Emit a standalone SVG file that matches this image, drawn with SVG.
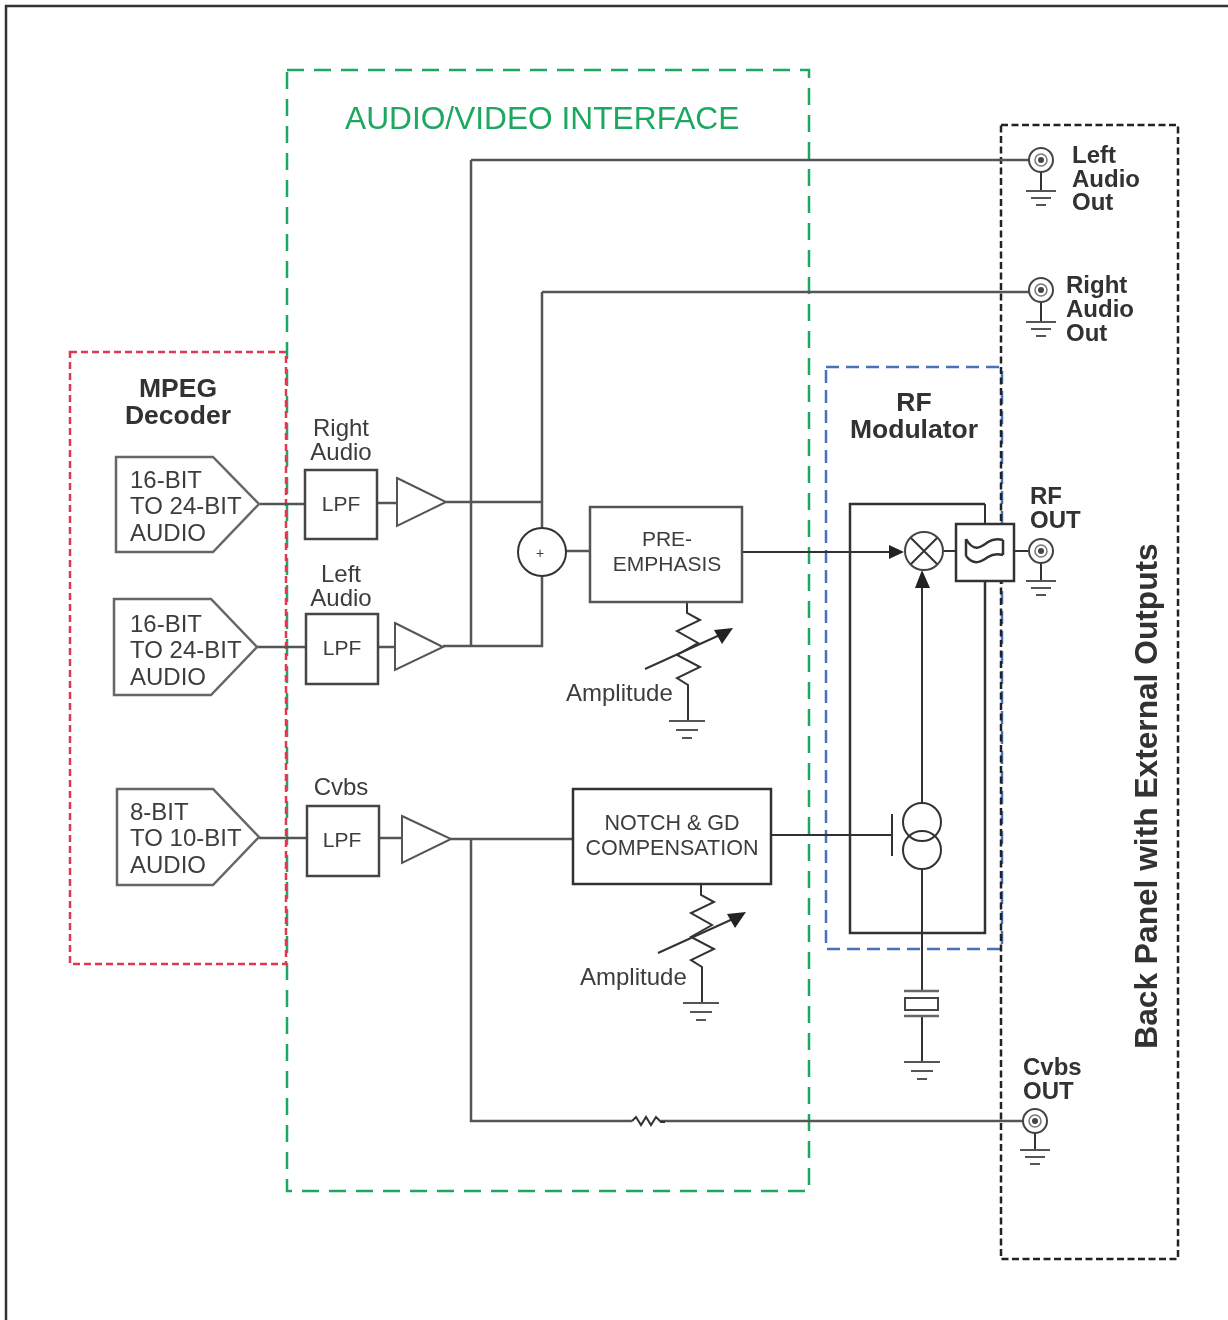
<svg xmlns="http://www.w3.org/2000/svg" width="1228" height="1320" viewBox="0 0 1228 1320">
<style>
text{font-family:"Liberation Sans",Arial,sans-serif;fill:#3c3c3c;font-size:24px}
.b{font-weight:bold;fill:#303030}
.h{font-size:26.5px}
.m{text-anchor:middle}
.l{font-size:21px}
.w{fill:none;stroke:#555;stroke-width:2.5}
.t{fill:none;stroke:#333;stroke-width:2}
.box{fill:#fff;stroke:#444;stroke-width:2.5}
.sym{fill:#fff;stroke:#444;stroke-width:2}
.ah{fill:#222;stroke:none}
</style>
<defs>
<filter id="soft" x="0" y="0" width="100%" height="100%"><feGaussianBlur stdDeviation="0.6"/></filter>
<g id="gnd" fill="none" stroke="#555" stroke-width="2"><path d="M-18 0H18M-11 9H11M-5 17H5"/></g>
<g id="gnds" fill="none" stroke="#555" stroke-width="2"><path d="M-15 0H15M-10 7H10M-5 14H5"/></g>
<g id="jack"><circle r="12" class="sym"/><circle r="6" fill="none" stroke="#777" stroke-width="1.5"/><circle r="3" fill="#444"/></g>
</defs>
<g filter="url(#soft)">
<rect width="1228" height="1320" fill="#fff"/>
<path d="M6 1320V6H1228" fill="none" stroke="#333" stroke-width="2.5"/>

<g id="frames" fill="none">
<rect id="av-frame" x="287" y="70" width="522" height="1121" stroke="#1fa860" stroke-width="2.5" stroke-dasharray="17 10"/>
<rect id="mpeg-frame" x="70" y="352" width="216" height="612" stroke="#e0384f" stroke-width="2.5" stroke-dasharray="7 4"/>
<rect id="rf-frame" x="826" y="367" width="176" height="582" stroke="#4a72b8" stroke-width="2.5" stroke-dasharray="13 7"/>
<rect id="back-frame" x="1001" y="125" width="177" height="1134" stroke="#222" stroke-width="2.5" stroke-dasharray="7 3.5"/>
</g>

<g id="connectors">
<path class="w" d="M260 504H305M377 503H397M446 502H542M471 160H1029M471 160V646M542 292H1029M542 292V528M542 576V646H443M257 647H306M378 647H395M259 838H307M379 838H402M451 839H573M471 839V1121H632M661 1121H1024M566 551H590"/>
<path class="t" d="M742 552H890M772 835H892M922 803V584M922 869V992M922 1016V1062M943 551H956M1014 551H1030M985 504V524M985 581V933"/>
<path class="t" d="M632 1121l4-4 5 8 5-8 5 8 5-8 5 5h4"/>
<path class="t" d="M1041 172V191M1041 302V322M1041 563V581M1035 1133V1150"/>
<path class="t" d="M687 603V613L700 620L677 631L698 643L677 655L700 667L677 678L688 685V721M701 885V895L714 902L691 913L712 925L691 937L714 949L691 960L702 967V1003"/>
<path class="t" d="M645 669L722 634M658 953L735 918"/>
<path class="ah" d="M733 628L714 630L722 644ZM746 912L727 914L735 928ZM904 552L889 545V559ZM922 570L915 588H930Z"/>
</g>

<text id="mpeg-label" class="b m h" y="397"><tspan x="178">MPEG</tspan><tspan x="178" dy="27">Decoder</tspan></text>

<g id="dac1"><path class="box" style="stroke:#666" d="M116 457H213L259 504L213 552H116Z"/><text y="488"><tspan x="130">16-BIT</tspan><tspan x="130" dy="26">TO 24-BIT</tspan><tspan x="130" dy="27">AUDIO</tspan></text></g>
<g id="dac2"><path class="box" style="stroke:#666" d="M114 599H211L257 647L211 695H114Z"/><text y="632"><tspan x="130">16-BIT</tspan><tspan x="130" dy="26">TO 24-BIT</tspan><tspan x="130" dy="27">AUDIO</tspan></text></g>
<g id="dac3"><path class="box" style="stroke:#666" d="M117 789H213L259 837L213 885H117Z"/><text y="820"><tspan x="130">8-BIT</tspan><tspan x="130" dy="26">TO 10-BIT</tspan><tspan x="130" dy="27">AUDIO</tspan></text></g>

<g id="lpf1"><rect class="box" x="305" y="470" width="72" height="69"/><text class="m l" x="341" y="511">LPF</text></g>
<g id="lpf2"><rect class="box" x="306" y="614" width="72" height="70"/><text class="m l" x="342" y="655">LPF</text></g>
<g id="lpf3"><rect class="box" x="307" y="806" width="72" height="70"/><text class="m l" x="342" y="847">LPF</text></g>
<g id="lpf-labels"><text class="m" y="436"><tspan x="341">Right</tspan><tspan x="341" dy="24">Audio</tspan></text><text class="m" y="582"><tspan x="341">Left</tspan><tspan x="341" dy="24">Audio</tspan></text><text class="m" x="341" y="795">Cvbs</text></g>

<g id="amp1"><path class="sym" d="M397 478L446 502L397 526Z" style="stroke:#555"/></g>
<g id="amp2"><path class="sym" d="M395 623L443 647L395 670Z" style="stroke:#555"/></g>
<g id="amp3"><path class="sym" d="M402 816L451 839L402 863Z" style="stroke:#555"/></g>

<g id="sum"><circle class="sym" cx="542" cy="552" r="24" style="stroke:#333"/><text class="m" x="540" y="558" style="font-size:14px">+</text></g>
<g id="pre"><rect class="box" x="590" y="507" width="152" height="95" style="stroke:#555"/><text class="m l" y="546"><tspan x="667">PRE-</tspan><tspan x="667" dy="25">EMPHASIS</tspan></text></g>
<g id="notch"><rect class="box" x="573" y="789" width="198" height="95" style="stroke:#333"/><text class="m" y="830" style="font-size:21.5px"><tspan x="672">NOTCH &amp; GD</tspan><tspan x="672" dy="25">COMPENSATION</tspan></text></g>
<g id="amp-labels"><text x="566" y="701">Amplitude</text><text x="580" y="985">Amplitude</text></g>
<use href="#gnd" x="687" y="721"/><use href="#gnd" x="701" y="1003"/>

<text id="av-title" x="345" y="129" style="font-size:31.7px;fill:#1fa860">AUDIO/VIDEO INTERFACE</text>

<text id="rf-label" class="b m h" y="411"><tspan x="914">RF</tspan><tspan x="914" dy="27">Modulator</tspan></text>
<g id="rf-box"><path fill="none" stroke="#333" stroke-width="2.5" d="M985 504H850V933H985V581"/></g>
<g id="mixer"><circle class="sym" cx="924" cy="551" r="19" style="stroke:#444"/><path class="t" d="M911 538L937 564M937 538L911 564"/></g>
<g id="filter"><rect x="956" y="524" width="58" height="57" fill="#fff" stroke="#333" stroke-width="2.5"/><path d="M966 539c8 14 15 8 22 3c6-4 11-3 15-2M966 556c8 10 15 6 22 1c6-4 11-3 15-2M966 539V556M1003 540V555" fill="none" stroke="#333" stroke-width="2.5"/></g>
<g id="osc"><path class="t" d="M892 814V856"/><circle class="t" cx="922" cy="822" r="19"/><circle class="t" cx="922" cy="850" r="19"/></g>
<g id="crystal"><path fill="none" stroke="#666" stroke-width="2.5" d="M904 991H939M904 1016H939"/><rect x="905" y="998" width="33" height="12" fill="#fff" stroke="#444" stroke-width="2"/></g>
<use href="#gnd" x="922" y="1062"/>

<g id="left-out"><use href="#jack" x="1041" y="160"/><use href="#gnds" x="1041" y="191"/><text class="b" y="163"><tspan x="1072">Left</tspan><tspan x="1072" dy="24">Audio</tspan><tspan x="1072" dy="23">Out</tspan></text></g>
<g id="right-out"><use href="#jack" x="1041" y="290"/><use href="#gnds" x="1041" y="322"/><text class="b" y="293"><tspan x="1066">Right</tspan><tspan x="1066" dy="24">Audio</tspan><tspan x="1066" dy="24">Out</tspan></text></g>
<g id="rf-out"><use href="#jack" x="1041" y="551"/><use href="#gnds" x="1041" y="581"/><text class="b" y="504"><tspan x="1030">RF</tspan><tspan x="1030" dy="24">OUT</tspan></text></g>
<g id="cvbs-out"><use href="#jack" x="1035" y="1121"/><use href="#gnds" x="1035" y="1150"/><text class="b" y="1075"><tspan x="1023">Cvbs</tspan><tspan x="1023" dy="24">OUT</tspan></text></g>

<text id="back-title" class="b m" transform="translate(1157 796) rotate(-90)" style="font-size:31.7px">Back Panel with External Outputs</text>
</g>
</svg>
